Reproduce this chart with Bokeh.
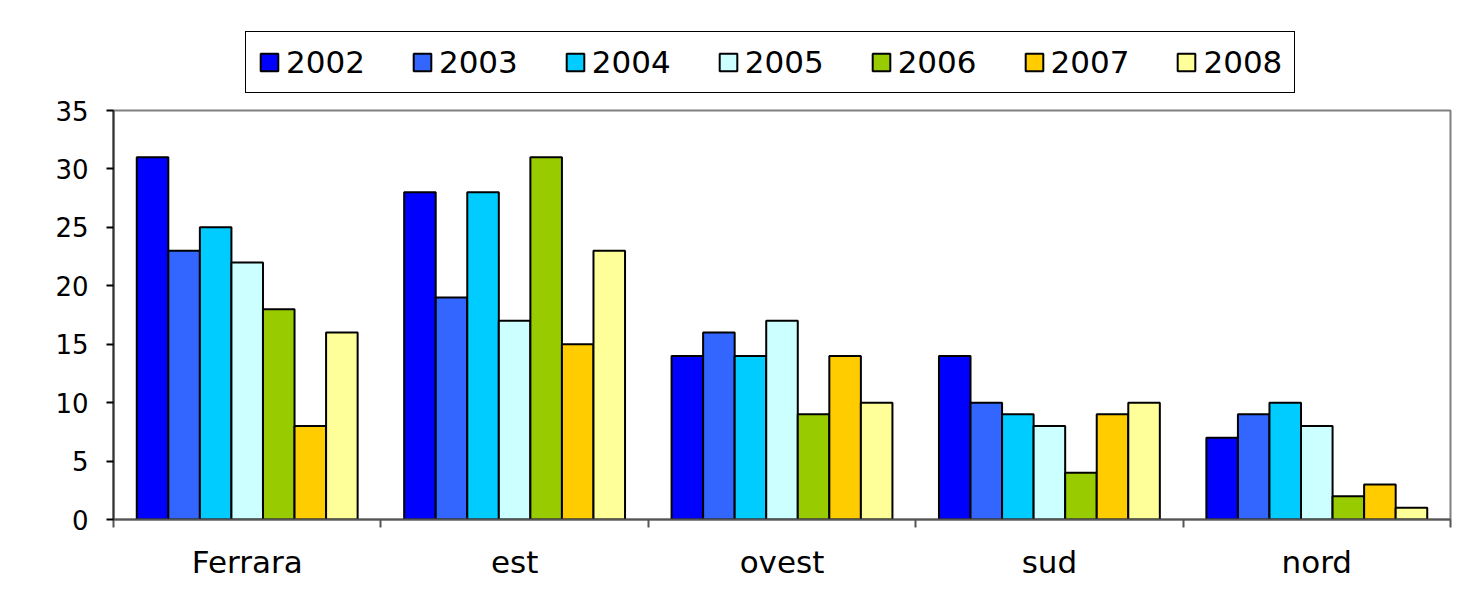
from bokeh.plotting import figure
from bokeh.layouts import column
from bokeh.models import ColumnDataSource, Legend, LegendItem, FixedTicker, Range1d
from bokeh.embed import file_html
from bokeh.resources import INLINE

regions = ["Ferrara", "est", "ovest", "sud", "nord"]
years = ["2002", "2003", "2004", "2005", "2006", "2007", "2008"]
v2002 = [31, 28, 14, 14, 7]
v2003 = [23, 19, 16, 10, 9]
v2004 = [25, 28, 14, 9, 10]
v2005 = [22, 17, 17, 8, 8]
v2006 = [18, 31, 9, 4, 2]
v2007 = [8, 15, 14, 9, 3]
v2008 = [16, 23, 10, 10, 1]
series = [v2002, v2003, v2004, v2005, v2006, v2007, v2008]
colors = ["#0000FF", "#3366FF", "#00CCFF", "#CCFFFF", "#99CC00", "#FFCC00", "#FFFF99"]
y_ticks = [0, 5, 10, 15, 20, 25, 30, 35]

FONT = "DejaVu Sans"
bar_w = 0.118
n = len(years)

# main chart
p = figure(width=1458, height=497, output_backend="svg", toolbar_location=None,
           x_range=Range1d(0, len(regions)), y_range=Range1d(0, 35),
           min_border_left=113, min_border_right=8, min_border_top=16, min_border_bottom=72)
p.grid.visible = False
p.outline_line_color = "#808080"
p.outline_line_width = 2
p.background_fill_color = "white"

for j, (yr, vals, col) in enumerate(zip(years, series, colors)):
    xs = [i + 0.5 + (j - (n - 1) / 2) * bar_w for i in range(len(regions))]
    src = ColumnDataSource(dict(x=xs, top=vals))
    p.vbar(x="x", top="top", width=bar_w, bottom=0, source=src,
           fill_color=col, line_color="black", line_width=2)

# y axis
p.yaxis.ticker = FixedTicker(ticks=y_ticks)
p.yaxis.axis_line_color = "#333333"
p.yaxis.axis_line_width = 2
p.yaxis.major_tick_out = 7
p.yaxis.major_tick_in = 0
p.yaxis.minor_tick_line_color = None
p.yaxis.major_tick_line_width = 2
p.yaxis.major_label_text_font = FONT
p.yaxis.major_label_text_font_size = "26px"
p.yaxis.major_label_text_color = "black"
p.yaxis.major_label_standoff = 18

# x axis
p.xaxis.ticker = FixedTicker(ticks=[i + 0.5 for i in range(len(regions))],
                             minor_ticks=list(range(len(regions) + 1)))
p.xaxis.major_label_overrides = {i + 0.5: r for i, r in enumerate(regions)}
p.xaxis.major_tick_line_color = None
p.xaxis.major_tick_out = 0
p.xaxis.major_tick_in = 0
p.xaxis.minor_tick_out = 8
p.xaxis.minor_tick_in = 0
p.xaxis.minor_tick_line_color = "#555555"
p.xaxis.minor_tick_line_width = 2
p.xaxis.axis_line_color = "#555555"
p.xaxis.axis_line_width = 2
p.xaxis.major_label_text_font = FONT
p.xaxis.major_label_text_font_size = "31px"
p.xaxis.major_label_text_color = "black"
p.xaxis.major_label_standoff = 16

# legend strip above the chart
lg = figure(width=1458, height=94, output_backend="svg", toolbar_location=None,
            x_axis_type=None, y_axis_type=None,
            x_range=Range1d(0, 1), y_range=Range1d(0, 1),
            min_border_left=0, min_border_right=0, min_border_top=0, min_border_bottom=0)
lg.grid.visible = False
lg.outline_line_color = None
items = []
for yr, col in zip(years, colors):
    r = lg.vbar(x=[0.5], top=[1], width=0.1, fill_color=col, line_color="black",
                line_width=2, visible=False)
    items.append(LegendItem(label=yr, renderers=[r]))
legend = Legend(items=items, orientation="horizontal", location=(132, 1),
                label_text_font=FONT, label_text_font_size="31px", label_text_color="black",
                glyph_width=22, glyph_height=22, label_standoff=6, spacing=46,
                label_height=30, padding=12, margin=0,
                inactive_fill_alpha=0.0,
                border_line_color="black", border_line_alpha=1.0, border_line_width=1,
                background_fill_color="white", background_fill_alpha=1.0)
lg.add_layout(legend, "center")

open("out.html", "w").write(file_html(column(lg, p, spacing=0), INLINE))
